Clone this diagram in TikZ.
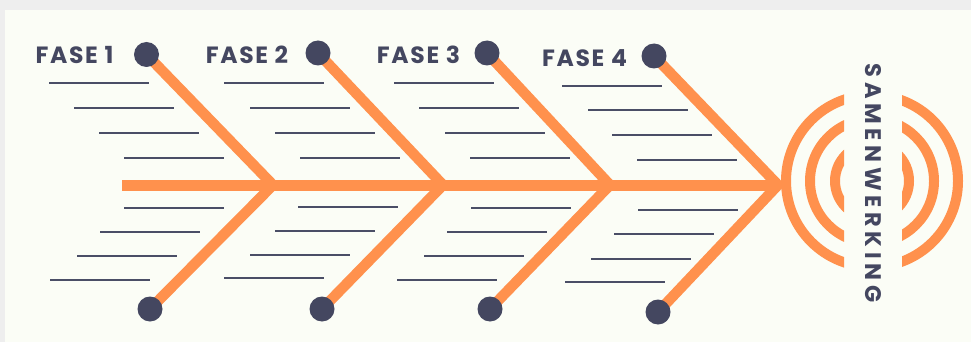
\documentclass[tikz,border=0pt]{standalone}
\usepackage{fontspec}
\setmainfont{Poppins}
\definecolor{org}{HTML}{FF914D}
\definecolor{navy}{HTML}{444760}
\definecolor{lin}{HTML}{4A4E66}
\definecolor{panel}{HTML}{FBFDF6}
\definecolor{frame}{HTML}{EEEEEE}
\pgfdeclarelayer{back}
\pgfdeclarelayer{mid}
\pgfsetlayers{back,mid,main}
\tikzset{
  dotnode/.style={circle,fill=navy,inner sep=0pt,minimum size=25pt},
  bone/.style={draw=org,line width=10.5pt,line join=miter},
  spine/.style={draw=org,line width=11pt},
  ring/.style={draw=org,line width=10pt},
  rule/.style={draw=lin,line width=2.4pt},
  lab/.style={text=navy,font=\fontsize{23.5}{26}\selectfont\bfseries\addfontfeatures{LetterSpace=7},inner sep=0pt},
}
\newcommand{\rulesgroup}[8]{%
  \draw[rule] (#2,#1) -- ++(100,0);
  \draw[rule] (#4,#3) -- ++(100,0);
  \draw[rule] (#6,#5) -- ++(100,0);
  \draw[rule] (#8,#7) -- ++(100,0);
}
\begin{document}
\begin{tikzpicture}[x=1pt,y=-1pt]
\useasboundingbox (0,0) rectangle (971,342);
\begin{pgfonlayer}{back}
  \fill[frame] (0,0) rectangle (971,342);
  \fill[panel] (5,10) rectangle (971,342);
\end{pgfonlayer}

% dots
\node[dotnode] (t1) at (146.5,54.5) {};
\node[dotnode] (t2) at (318,53) {};
\node[dotnode] (t3) at (487,53) {};
\node[dotnode] (t4) at (654,56) {};
\node[dotnode] (b1) at (150,309) {};
\node[dotnode] (b2) at (322,309) {};
\node[dotnode] (b3) at (490,309) {};
\node[dotnode] (b4) at (658,312) {};

% joints
\coordinate (s0) at (122,185);
\coordinate (j1) at (273,185);
\coordinate (j2) at (443,185);
\coordinate (j3) at (610,185);
\coordinate (j4) at (778,185);

\begin{pgfonlayer}{mid}
  \draw[spine] (s0) -- (j4);
  \draw[bone] (t1.center) -- (j1) -- (b1.center);
  \draw[bone] (t2.center) -- (j2) -- (b2.center);
  \draw[bone] (t3.center) -- (j3) -- (b3.center);
  \draw[bone] (t4.center) -- (j4) -- (b4.center);
\end{pgfonlayer}

% rules
\rulesgroup{83}{49}{108}{74}{133}{99}{158}{124}
\rulesgroup{208}{124}{232}{100}{256}{77}{280}{50}
\rulesgroup{83}{224}{108}{250}{133}{275}{158}{300}
\rulesgroup{207}{298}{231}{275}{255}{250}{278}{224}
\rulesgroup{83}{394}{108}{419}{133}{445}{158}{470}
\rulesgroup{208}{471}{232}{447}{256}{424}{280}{397}
\rulesgroup{86}{562}{110}{588}{135}{612}{160}{637}
\rulesgroup{210}{638}{234}{614}{259}{591}{282}{565}

% labels
\node[lab] (f1) at (74.5,55) {FASE 1};
\node[lab] (f2) at (247,55) {FASE 2};
\node[lab] (f3) at (418.5,55) {FASE 3};
\node[lab] (f4) at (584.5,58) {FASE 4};

% rings
\coordinate (c) at (872,181);
\begin{scope}
  \clip (0,0) rectangle (844,342) (902,0) rectangle (971,342);
  \draw[ring] (c) circle[radius=86];
  \draw[ring] (c) circle[radius=62];
  \draw[ring] (c) circle[radius=37];
\end{scope}
\node[text=navy,font=\fontsize{22.5}{25}\selectfont\bfseries\addfontfeatures{LetterSpace=21},inner sep=0pt,rotate=-90] (sam) at (873,183) {SAMENWERKING};
\end{tikzpicture}
\end{document}
